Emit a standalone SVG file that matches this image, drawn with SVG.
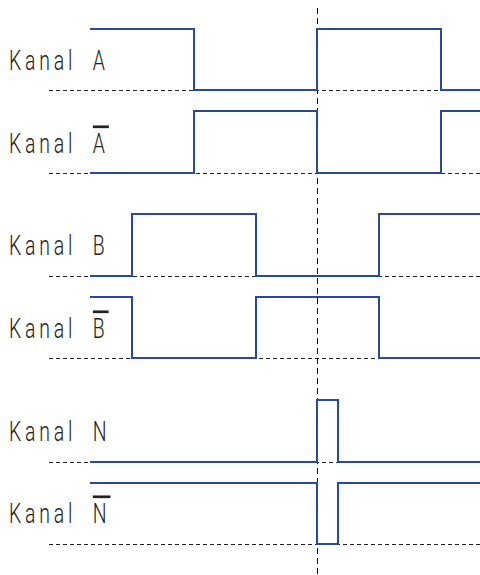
<svg xmlns="http://www.w3.org/2000/svg" width="480" height="575" viewBox="0 0 480 575">
<style>
.lbl{font-family:"Roboto","Liberation Sans",sans-serif;font-weight:300;font-size:27px;fill:#222;letter-spacing:5.3px}
.ov{text-decoration:overline}
.base{stroke:#222;stroke-width:1;stroke-dasharray:4 3;fill:none}
.sig{stroke:#2a48a0;stroke-width:2;fill:none;stroke-linejoin:miter}
.mark{stroke:#111;stroke-width:1;stroke-dasharray:6 4;fill:none}
</style>
<rect width="480" height="575" fill="#fff"/>
<g id="baselines">
<line class="base" x1="49" y1="90.5" x2="480" y2="90.5"/>
<line class="base" x1="49" y1="173.5" x2="480" y2="173.5"/>
<line class="base" x1="49" y1="276.5" x2="480" y2="276.5"/>
<line class="base" x1="49" y1="358.5" x2="480" y2="358.5"/>
<line class="base" x1="49" y1="462.5" x2="480" y2="462.5"/>
<line class="base" x1="49" y1="544.5" x2="480" y2="544.5"/>
</g>
<g id="connectors">
<line class="mark" x1="317.5" y1="8" x2="317.5" y2="575"/>
</g>
<g id="chA"><text class="lbl" transform="scale(0.72 1)" x="12.5" y="70">Kanal<tspan x="129">A</tspan></text>
<path class="sig" d="M90 29H194V90H317V29H441V90H480"/></g>
<g id="chAn"><text class="lbl" transform="scale(0.72 1)" x="12.5" y="153">Kanal<tspan x="129" class="ov">A</tspan></text>
<path class="sig" d="M90 173H194V111H317V173H441V111H480"/></g>
<g id="chB"><text class="lbl" transform="scale(0.72 1)" x="12.5" y="255">Kanal<tspan x="129">B</tspan></text>
<path class="sig" d="M90 276H132V214H256V276H379V214H480"/></g>
<g id="chBn"><text class="lbl" transform="scale(0.72 1)" x="12.5" y="338">Kanal<tspan x="129" class="ov">B</tspan></text>
<path class="sig" d="M90 297H132V358H256V297H379V358H480"/></g>
<g id="chN"><text class="lbl" transform="scale(0.72 1)" x="12.5" y="441">Kanal<tspan x="129">N</tspan></text>
<path class="sig" d="M90 462H317V400H338V462H480"/></g>
<g id="chNn"><text class="lbl" transform="scale(0.72 1)" x="12.5" y="523">Kanal<tspan x="129" class="ov">N</tspan></text>
<path class="sig" d="M90 483H317V544H338V483H480"/></g>
</svg>
